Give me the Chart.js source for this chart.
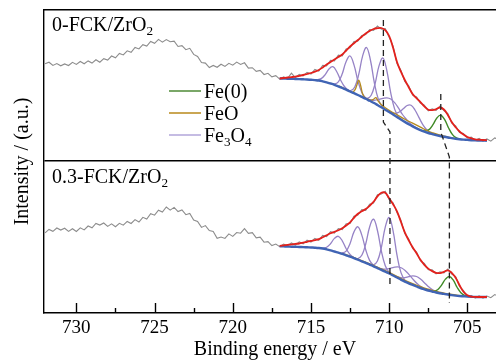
<!DOCTYPE html>
<html><head><meta charset="utf-8">
<script src="https://cdn.jsdelivr.net/npm/chart.js@4/dist/chart.umd.min.js"></script>
<style>html,body{margin:0;padding:0;overflow:hidden;background:#fff}#wrap{width:506px;height:363px}</style>
</head><body><div id="wrap"><canvas id="c" width="506" height="363"></canvas></div>
<script>
// ---------- DATA (binding energy in eV, intensity in a.u.) ----------
const X_TITLE = 'Binding energy / eV';
const Y_TITLE = 'Intensity / (a.u.)';
const PANEL_LABELS = ['0-FCK/ZrO_2', '0.3-FCK/ZrO_2'];
const LEGEND_LABELS = ['Fe(0)', 'FeO', 'Fe_3O_4'];
const TICK_VALUES = [730, 727.5, 725, 722.5, 720, 717.5, 715, 712.5, 710, 707.5, 705];
const X_MIN = 702.53, X_MAX = 732.07;
const TOP_OFFSET = 151.3;   // vertical stacking offset of the upper spectrum
const SEPARATOR = 152.3;    // boundary between the two stacked panels
const Y_MAX = 303;

const RAW_E = [732,731.75,731.5,731.25,731,730.75,730.5,730.25,730,729.75,729.5,729.25,729,728.75,728.5,728.25,728,727.75,727.5,727.25,727,726.75,726.5,726.25,726,725.75,725.5,725.25,725,724.75,724.5,724.25,724,723.75,723.5,723.25,723,722.75,722.5,722.25,722,721.75,721.5,721.25,721,720.75,720.5,720.25,720,719.75,719.5,719.25,719,718.75,718.5,718.25,718,717.75,717.5,717.25,717,716.75,716.5,716.25,716,715.75,715.5,715.25,715,714.75,714.5,714.25,714,713.75,713.5,713.25,713,712.75,712.5,712.25,712,711.75,711.5,711.25,711,710.75,710.5,710.25,710,709.75,709.5,709.25,709,708.75,708.5,708.25,708,707.75,707.5,707.25,707,706.75,706.5,706.25,706,705.75,705.5,705.25,705,704.75,704.5,704.25,704,703.75,703.5,703.25,703,702.75,702.5];
const RAW_TOP = [98.0,99.5,96.3,98.1,95.9,97.8,96.2,99.4,97.3,100.2,97.9,100.8,98.6,101.9,99.5,103.0,101.6,105.7,103.9,108.2,106.8,110.9,109.4,114.3,112.8,117.0,115.6,120.2,118.4,122.3,119.5,122.1,120.0,120.6,115.2,116.0,112.0,113.4,107.3,105.2,99.1,98.6,94.2,96.3,94.4,97.5,95.3,98.4,96.5,99.6,97.2,98.9,93.6,94.0,90.4,91.3,87.2,88.4,84.9,86.0,82.6,
  84.9,83.1,88.5,84.0,87.3,85.8,89.4,87.6,92.3,90.6,96.4,95.8,101.4,100.9,106.5,105.9,112.8,114.0,120.1,120.6,126.3,127.1,132.0,131.4,135.8,132.6,133.0,124.4,115.6,98.2,91.5,80.3,75.9,66.5,64.8,58.3,56.6,50.9,52.9,51.4,55.6,51.1,48.0,38.6,35.9,29.1,28.3,23.6,24.5,21.3,23.2,20.6,22.7,20.5,23.8,22.1,23.0,21.8];
const RAW_BOT = [80.2,83.6,81.7,85.0,82.9,84.8,81.6,84.3,81.5,85.2,83.1,87.0,85.2,89.6,87.9,90.0,86.6,89.1,86.3,89.7,87.8,91.6,89.5,93.4,91.0,95.7,94.0,99.3,97.8,102.8,100.9,106.0,102.9,105.6,101.4,103.0,98.3,99.5,93.0,91.6,85.6,87.4,82.5,81.6,74.7,76.0,74.6,79.1,76.6,80.5,79.8,84.3,79.6,80.4,75.2,75.8,70.8,71.3,67.4,68.9,66.4,
  68.9,67.2,70.1,68.0,71.2,69.2,72.8,71.0,74.6,72.7,77.5,76.4,81.4,80.0,84.5,83.4,89.2,89.5,96.8,97.9,103.3,102.7,108.8,110.0,118.3,119.0,121.6,113.3,110.2,100.4,92.7,79.4,74.1,64.5,61.0,52.0,49.5,43.3,43.1,39.1,41.2,40.1,43.9,39.0,36.5,26.6,22.3,16.6,17.5,15.0,17.1,14.9,17.0,15.3,18.4,16.6,18.7,17.0];

const FIT_E = [717,716.75,716.5,716.25,716,715.75,715.5,715.25,715,714.75,714.5,714.25,714,713.75,713.5,713.25,713,712.75,712.5,712.25,712,711.75,711.5,711.25,711,710.75,710.5,710.25,710,709.75,709.5,709.25,709,708.75,708.5,708.25,708,707.75,707.5,707.25,707,706.75,706.5,706.25,706,705.75,705.5,705.25,705,704.75,704.5,704.25,704,703.75];
const ENV_TOP = [83.2,83.7,84.2,84.6,85.1,85.9,86.7,87.7,88.7,90.0,91.7,94.3,97.2,99.7,102.2,104.7,107.2,111.2,115.2,118.5,121.7,125.0,128.2,130.7,132.7,133.5,133.7,131.5,125.7,114.0,99.7,90.0,81.7,74.5,67.7,63.5,59.5,55.3,52.0,51.6,52.5,54.2,52.2,46.7,39.7,34.5,30.2,27.2,24.7,23.3,22.4,22.0,21.7,21.5];
const BG_TOP = [83.2,83.1,83.0,82.9,82.7,82.6,82.4,82.2,81.9,81.6,81.2,80.4,79.4,78.2,76.9,75.4,73.7,72.0,70.2,68.5,66.7,64.8,62.9,60.9,58.9,56.7,54.4,52.0,49.7,47.2,44.7,42.2,39.8,37.5,35.3,33.3,31.5,30.0,28.7,27.6,26.6,25.7,24.9,24.2,23.6,23.0,22.5,22.1,21.8,21.5,21.3,21.2,21.1,21.0];
const ENV_BOT = [67.2,67.7,68.2,68.7,69.1,69.5,70.3,71.2,72.1,72.9,73.9,75.7,77.7,79.7,81.2,82.7,84.7,87.5,90.7,95.2,99.2,101.7,103.9,107.2,111.2,116.7,120.2,120.2,114.7,108.7,101.7,91.2,80.7,72.7,65.7,59.7,53.2,48.2,44.4,41.9,40.2,39.9,41.2,42.7,40.2,35.2,27.7,21.2,17.7,16.4,16.1,16.0,16.0,16.0];
const BG_BOT = [66.7,66.6,66.5,66.3,66.2,66.0,65.9,65.7,65.5,65.3,65.0,64.5,63.7,62.7,61.5,60.3,59.1,57.7,56.4,54.9,53.3,51.7,50.1,48.4,46.7,44.9,43.1,41.3,39.5,37.5,35.5,33.4,31.4,29.7,28.1,26.5,24.9,23.7,22.5,21.5,20.5,19.8,19.1,18.5,17.9,17.4,17.0,16.7,16.4,16.2,16.1,16.0,16.0,16.0];

// fitted components, [eV, intensity] pairs
const TOP_FE3O4 = [
  [[714.85,81.75],[714.6,81.86],[714.35,83.05],[714.1,86.84],[713.85,92.7],[713.6,95.0],[713.35,90.0],[713.1,81.44],[712.85,74.95],[712.6,71.36],[712.35,69.25]],
  [[713.75,78.3],[713.5,77.8],[713.25,79.9],[713.0,87.9],[712.75,100.3],[712.5,105.7],[712.25,96.8],[712.0,80.9],[711.75,69.3],[711.5,63.8],[711.25,61.0]],
  [[712.7,71.8],[712.45,71.2],[712.2,74.7],[711.95,87.0],[711.7,105.6],[711.45,114.2],[711.2,101.7],[710.95,79.2],[710.7,62.8],[710.45,55.2],[710.2,51.7]],
  [[711.65,64.2],[711.4,63.4],[711.15,66.5],[710.9,78.1],[710.65,95.8],[710.4,103.7],[710.15,91.1],[709.9,68.8],[709.65,52.6],[709.4,44.9],[709.15,41.2]],
  [[711.65,64.2],[711.4,62.7],[711.15,61.7],[710.9,61.5],[710.65,62.2],[710.4,63.3],[710.15,63.9],[709.9,62.7],[709.65,59.0],[709.4,53.5],[709.15,47.2],[708.9,42.4],[708.65,38.2],[708.4,35.1],[708.15,32.8]],
  [[710.1,50.8],[709.85,49.1],[709.6,48.4],[709.35,49.7],[709.1,52.9],[708.85,56.2],[708.6,56.4],[708.35,51.7],[708.1,44.3],[707.85,37.1],[707.6,31.9],[707.35,28.9],[707.1,27.2]]
];
const TOP_FEO = [[713.2,75.8],[712.9,73.4],[712.6,71.2],[712.35,69.4],[712.2,71.5],[712.07,76.5],[711.95,81.5],[711.83,76.5],[711.7,68.0],[711.55,64.0],[711.35,62.5],[711.15,61.5],[711.0,62.5],[710.85,64.0],[710.7,60.5],[710.5,57.0],[710.2,53.5],[709.9,50.5],[709.5,47.0],[709.0,42.5],[708.5,38.5],[708.0,34.5],[707.6,31.2],[707.2,28.8],[706.8,26.8],[706.4,25.2],[706.0,23.9],[705.5,22.6]];
const TOP_FE0 = [[707.95,31.5],[707.7,30.7],[707.45,32.1],[707.2,37.0],[706.95,43.7],[706.7,46.5],[706.45,42.1],[706.2,33.7],[705.95,27.1],[705.7,23.8],[705.45,22.6]];

const BOT_FE3O4 = [
  [[714.5,65.05],[714.25,64.9],[714.0,65.8],[713.75,69.3],[713.5,74.6],[713.25,76.7],[713.0,72.2],[712.75,64.3],[712.5,58.5],[712.25,55.3],[712.0,53.35]],
  [[713.25,60.4],[713.0,60.0],[712.75,61.9],[712.5,69.6],[712.25,81.1],[712.0,86.2],[711.75,77.9],[711.5,63.3],[711.25,52.6],[711.0,47.6],[710.75,45.0]],
  [[712.25,55.0],[712.0,54.5],[711.75,57.7],[711.5,69.0],[711.25,86.0],[711.0,93.9],[710.75,82.5],[710.5,62.0],[710.25,47.3],[710.0,40.7],[709.75,37.6]],
  [[711.25,48.6],[711.0,48.2],[710.75,52.1],[710.5,65.5],[710.25,85.9],[710.0,95.5],[709.75,82.1],[709.5,57.9],[709.25,40.6],[709.0,32.9],[708.75,29.9]],
  [[710.95,46.5],[710.7,45.0],[710.45,44.1],[710.2,43.9],[709.95,44.6],[709.7,45.6],[709.45,46.1],[709.2,45.0],[708.95,42.1],[708.7,37.9],[708.45,33.3],[708.2,29.2],[707.95,26.1],[707.7,24.0],[707.45,22.5]],
  [[709.75,37.7],[709.5,36.3],[709.25,35.3],[709.0,35.4],[708.75,36.3],[708.5,37.1],[708.25,36.5],[708.0,33.9],[707.75,30.3],[707.5,26.5],[707.25,23.4],[707.0,21.3],[706.75,20.0]]
];
const BOT_FEO = [[713.0,59.6],[712.0,54.0],[711.0,47.6],[710.0,40.6],[709.0,32.6],[708.0,26.4],[707.5,23.8],[707.0,21.6],[706.5,19.9],[706.0,18.5],[705.5,17.4]];
const BOT_FE0 = [[707.4,22.2],[707.15,21.9],[706.9,23.3],[706.65,27.8],[706.4,33.9],[706.15,36.5],[705.9,32.8],[705.65,25.5],[705.4,20.0],[705.15,17.4],[704.9,16.4]];

// dashed guide lines linking the peak positions of both spectra (global intensity units)
const GUIDE_A = [[710.37,293],[710.37,191],[709.95,181],[709.95,25]];
const GUIDE_B = [[706.70,219],[706.70,181],[706.15,156],[706.15,10]];

// ---------- STYLE ----------
const FONT = "'Liberation Serif', 'Times New Roman', serif";
const C_RAW = '#8c8c8c', C_ENV = '#e3211c', C_BG = '#4064b4', C_FE3O4 = '#9683c6', C_FEO = '#b48a1e', C_FE0 = '#3f8a26';
const LEGEND_COLORS = ['#4e8a36', '#b8891a', '#b2a6da'];

const line = (E, V, off) => E.map((e, i) => ({x: e, y: V[i] + off}));
const pairs = (P, off) => P.map(p => ({x: p[0], y: p[1] + off}));
function ds(data, color, width, order, extra) {
  return Object.assign({data, borderColor: color, borderWidth: width, pointRadius: 0, fill: false, tension: 0.4, order}, extra || {});
}
const datasets = [];
[[RAW_TOP, TOP_OFFSET], [RAW_BOT, 0]].forEach(([V, o]) => datasets.push(ds(line(RAW_E, V, o), C_RAW, 1.1, 10, {tension: 0})));
TOP_FE3O4.forEach(P => datasets.push(ds(pairs(P, TOP_OFFSET), C_FE3O4, 1.3, 8)));
BOT_FE3O4.forEach(P => datasets.push(ds(pairs(P, 0), C_FE3O4, 1.3, 8)));
datasets.push(ds(pairs(TOP_FEO, TOP_OFFSET), C_FEO, 1.3, 7));
datasets.push(ds(pairs(BOT_FEO, 0), C_FEO, 1.3, 7));
datasets.push(ds(pairs(TOP_FE0, TOP_OFFSET), C_FE0, 1.4, 7));
datasets.push(ds(pairs(BOT_FE0, 0), C_FE0, 1.4, 7));
datasets.push(ds(line(FIT_E, BG_TOP, TOP_OFFSET), C_BG, 2.4, 5));
datasets.push(ds(line(FIT_E, BG_BOT, 0), C_BG, 2.4, 5));
datasets.push(ds(line(FIT_E, ENV_TOP, TOP_OFFSET), C_ENV, 1.8, 3));
datasets.push(ds(line(FIT_E, ENV_BOT, 0), C_ENV, 1.8, 3));
[GUIDE_A, GUIDE_B].forEach(G => datasets.push(ds(pairs(G, 0), '#222', 1.3, 1, {tension: 0, borderDash: [6, 4]})));

function drawRich(ctx, text, x, y, size) {
  const parts = text.split(/(_\d)/).filter(s => s);
  let cx = x;
  parts.forEach(p => {
    if (p[0] === '_') {
      ctx.font = (size * 0.66).toFixed(1) + 'px ' + FONT;
      ctx.fillText(p.slice(1), cx, y + size * 0.2);
      cx += ctx.measureText(p.slice(1)).width;
    } else {
      ctx.font = size + 'px ' + FONT;
      ctx.fillText(p, cx, y);
      cx += ctx.measureText(p).width;
    }
  });
}

const decor = {
  id: 'decor',
  afterDraw(chart) {
    const {ctx, chartArea: a, scales: {x, y}} = chart;
    ctx.save();
    ctx.strokeStyle = '#000'; ctx.lineWidth = 1.4;
    TICK_VALUES.forEach(v => {
      const px = Math.round(x.getPixelForValue(v)) + 0.5;
      const len = v % 5 === 0 ? 10 : 5;
      ctx.beginPath(); ctx.moveTo(px, a.bottom); ctx.lineTo(px, a.bottom - len); ctx.stroke();
    });
    ctx.fillStyle = '#000'; ctx.textBaseline = 'alphabetic'; ctx.textAlign = 'left';
    drawRich(ctx, PANEL_LABELS[0], a.left + 8, a.top + 21, 20);
    drawRich(ctx, PANEL_LABELS[1], a.left + 8, y.getPixelForValue(SEPARATOR) + 22.5, 20);
    LEGEND_LABELS.forEach((t, i) => {
      const ly = a.top + 81 + i * 22;
      ctx.strokeStyle = LEGEND_COLORS[i]; ctx.lineWidth = 1.5;
      ctx.beginPath(); ctx.moveTo(a.left + 125, ly); ctx.lineTo(a.left + 157, ly); ctx.stroke();
      ctx.fillStyle = '#000';
      drawRich(ctx, t, a.left + 160, ly + 6.5, 20);
    });
    ctx.restore();
  }
};

new Chart(document.getElementById('c'), {
  type: 'line',
  data: {datasets},
  plugins: [decor],
  options: {
    responsive: false, animation: false, devicePixelRatio: 1,
    layout: {padding: 0},
    plugins: {legend: {display: false}, tooltip: {enabled: false}},
    scales: {
      x: {
        type: 'linear', position: 'bottom', reverse: true, min: X_MIN, max: X_MAX,
        afterBuildTicks: s => { s.ticks = TICK_VALUES.map(v => ({value: v})); },
        afterFit: s => { s.height = 50; },
        grid: {display: false, drawTicks: false},
        border: {display: true, color: '#000', width: 1.4},
        ticks: {autoSkip: false, maxRotation: 0, padding: 4, color: '#000', font: {family: FONT, size: 19},
          callback: v => (v % 5 === 0 ? String(v) : '')},
        title: {display: true, text: X_TITLE, color: '#000', font: {family: FONT, size: 20}, padding: {top: 0, bottom: 1}}
      },
      x2: {
        type: 'linear', position: 'top', reverse: true, min: X_MIN, max: X_MAX,
        afterFit: s => { s.height = 10; },
        grid: {display: false, drawTicks: false},
        border: {display: true, color: '#000', width: 1.4},
        ticks: {display: false}
      },
      y: {
        type: 'linear', position: 'left', min: 0, max: Y_MAX,
        afterBuildTicks: s => { s.ticks = [{value: SEPARATOR}]; },
        afterFit: s => { s.width = 44; },
        grid: {display: true, color: '#000', lineWidth: 1.4, drawTicks: false},
        border: {display: true, color: '#000', width: 1.4},
        ticks: {display: false},
        title: {display: true, text: Y_TITLE, color: '#000', font: {family: FONT, size: 20}, padding: {top: 11, bottom: 0}}
      }
    }
  }
});
</script></body></html>
